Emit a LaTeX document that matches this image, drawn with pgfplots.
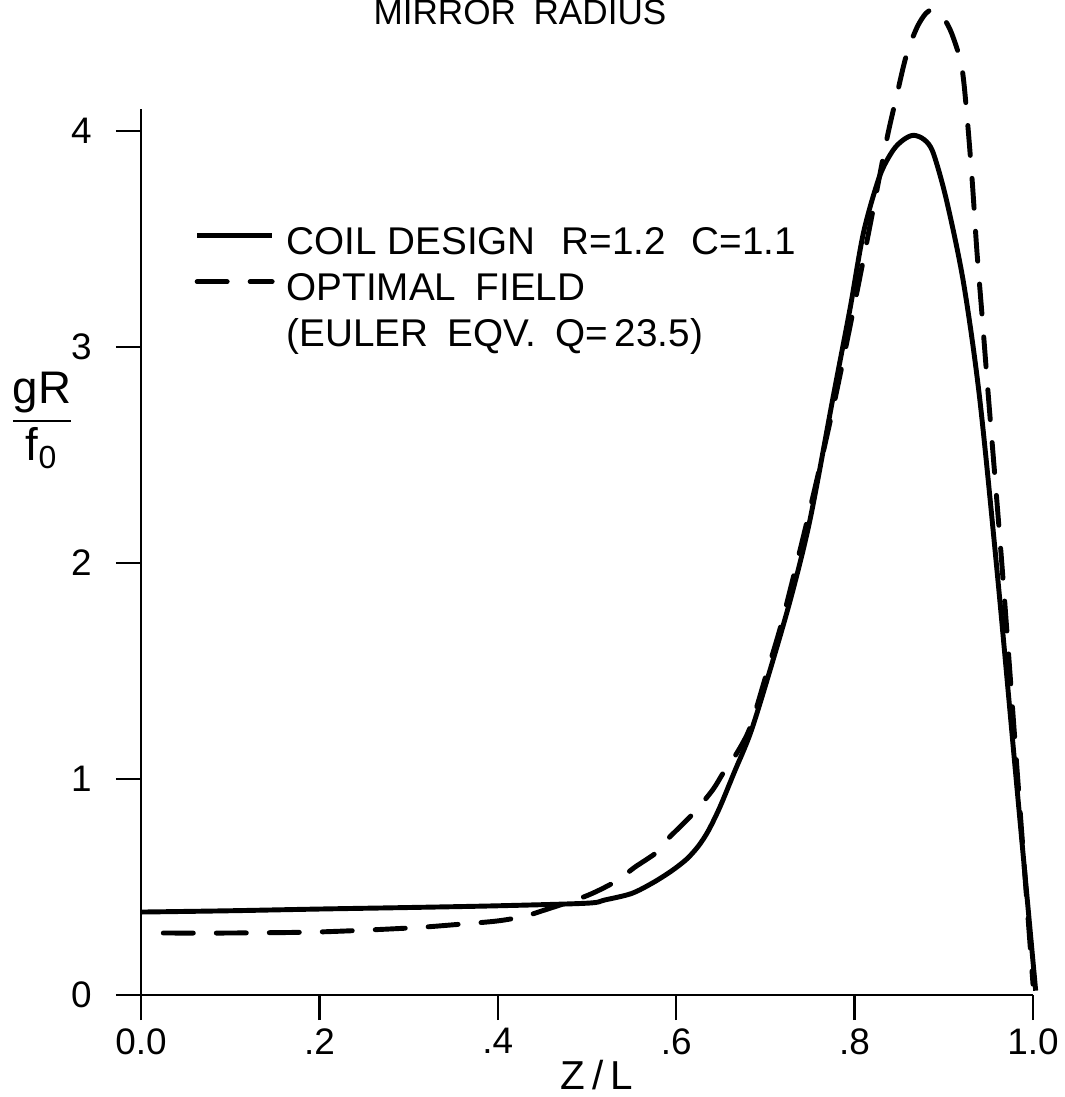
\documentclass[border=0pt]{standalone}
\usepackage{fontspec}
\setmainfont{Liberation Sans}
\usepackage{amsmath}
\usepackage{pgfplots}
\pgfplotsset{compat=1.18}

\begin{document}
\begin{tikzpicture}
\begin{axis}[
  x=89.2mm, y=21.6mm,
  xmin=0, xmax=1, ymin=0, ymax=4.1,
  axis x line=bottom, axis y line=left,
  axis line style={-, line width=0.7pt},
  tick style={line width=0.7pt, black},
  tick align=outside,
  major tick length=2.5mm,
  xtick={0,0.2,0.4,0.6,0.8,1},
  xticklabels={0.0,.2,.4,.6,.8,1.0},
  ytick={0,1,2,3,4},
  yticklabels={0,1,2,3,4},
  ticklabel style={font=\fontsize{10.5}{12}\selectfont},
  yticklabel style={xshift=-1.2mm},
  xticklabel style={yshift=0.4mm},
  /pgf/number format/assume math mode=true,
  xlabel={Z\,/\,L},
  xlabel style={at={(axis description cs:0.511,0)}, anchor=center, yshift=-8.0mm,
    font=\fontsize{11.5}{13}\selectfont},
  ylabel={$\dfrac{\text{gR}}{\text{f}_{\text{0}}}$},
  ylabel style={rotate=-90, at={(axis description cs:0,0.649)}, anchor=center,
    xshift=-9.9mm, font=\fontsize{13}{15}\selectfont},
  clip=false,
  legend style={at={(axis cs:0.0594,3.583)}, anchor=north west, draw=none, fill=none,
    inner sep=0pt, column sep=1.2mm, row sep=0pt,
    font=\fontsize{11}{13}\selectfont,
    nodes={inner sep=0pt, text height=3.3mm, text depth=1.3mm}},
  legend cell align=left,
  legend image code/.code={\draw[#1] (0mm,0.9mm) -- (7.5mm,0.9mm);},
]
\coordinate (O) at (axis cs:0,0);

% coil design R=1.2 C=1.1
\addplot[black, line width=1.4pt, smooth, tension=0.5] coordinates {
  (0.0,0.384) (0.1,0.39) (0.2,0.398) (0.3,0.405) (0.4,0.413) (0.5,0.425)
  (0.52,0.44) (0.55,0.47) (0.574,0.52) (0.595,0.575) (0.612,0.63) (0.625,0.69)
  (0.636,0.76) (0.649,0.87) (0.665,1.03) (0.683,1.21) (0.702,1.46) (0.728,1.83)
  (0.75,2.2) (0.776,2.77) (0.795,3.18) (0.81,3.53) (0.828,3.79) (0.843,3.91)
  (0.855,3.96) (0.866,3.98) (0.878,3.96) (0.888,3.90) (0.903,3.68) (0.922,3.30)
  (0.94,2.77) (0.96,1.95) (0.98,1.05) (1.003,0.02)
};
\addlegendentry{COIL DESIGN\hspace{2.6mm}R{=}1.2\hspace{2.6mm}C{=}1.1}

% optimal field
\addplot[black, line width=1.4pt, line cap=round, dash pattern=on 3mm off 2.3mm,
  smooth, tension=0.5] coordinates {
  (0.025,0.287) (0.1,0.287) (0.2,0.292) (0.3,0.31) (0.35,0.325) (0.4,0.343)
  (0.43,0.365) (0.45,0.39) (0.5,0.46) (0.534,0.53) (0.553,0.59) (0.578,0.66)
  (0.59,0.72) (0.619,0.84) (0.641,0.95) (0.653,1.03) (0.668,1.12) (0.683,1.24)
  (0.70,1.47) (0.72,1.75) (0.75,2.25) (0.776,2.72) (0.8,3.2) (0.82,3.62)
  (0.836,3.96) (0.847,4.16) (0.858,4.35) (0.87,4.48) (0.88,4.545) (0.888,4.56)
  (0.9,4.52) (0.909,4.45) (0.92,4.30) (0.926,4.07) (0.932,3.76) (0.937,3.45)
  (0.943,3.14) (0.95,2.77) (0.965,2.0) (0.982,1.05) (1.0,0.05)
};
\addlegendentry{OPTIMAL\enspace FIELD}
\addlegendimage{empty legend}
\addlegendentry{(EULER\enspace EQV.\enspace Q{=}\,23.5)}
\end{axis}
\node[anchor=base, font=\fontsize{10}{12}\selectfont] at ([shift={(37.9mm,97.0mm)}]O) {MIRROR\enspace RADIUS};
\pgfresetboundingbox
\path[use as bounding box] ([shift={(-14.1mm,-10.2mm)}]O) rectangle ([shift={(92.3mm,99.5mm)}]O);
\end{tikzpicture}
\end{document}
